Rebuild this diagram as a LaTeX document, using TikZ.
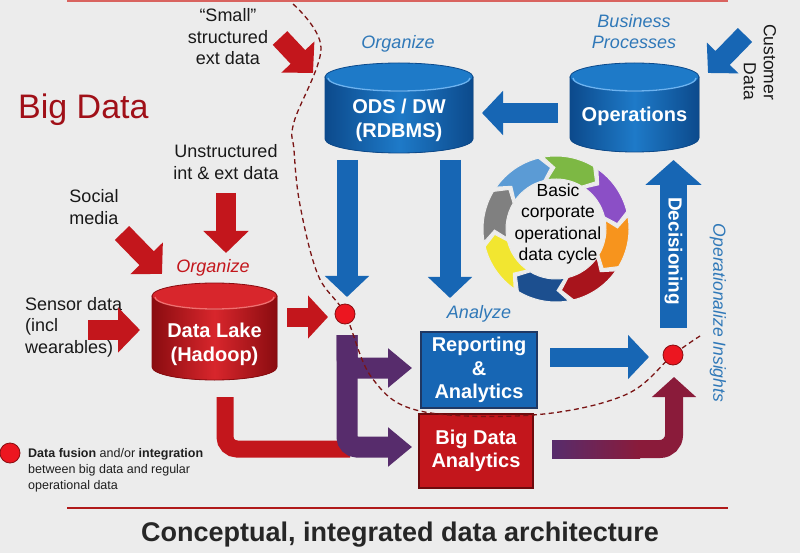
\documentclass[tikz,border=0pt]{standalone}
\usepackage{fontspec}
\setmainfont{Liberation Sans}
\usetikzlibrary{arrows.meta,calc}
\definecolor{bg}{HTML}{ECECEC}
\definecolor{rd}{HTML}{C3161C}
\definecolor{rdd}{HTML}{8A0C10}
\definecolor{rdm}{HTML}{D8262C}
\definecolor{rdl}{HTML}{F07070}
\definecolor{bl}{HTML}{1766B4}
\definecolor{bld}{HTML}{0C4A8C}
\definecolor{blm}{HTML}{1E7AC8}
\definecolor{bll}{HTML}{6DB3F0}
\definecolor{navy}{HTML}{1F3864}
\definecolor{lbl}{HTML}{2F78B8}
\definecolor{pu}{HTML}{572C6C}
\definecolor{pr}{HTML}{8A1B3A}
\definecolor{bigred}{HTML}{A01018}
\definecolor{dashc}{HTML}{7A1414}
\definecolor{ttl}{HTML}{262626}
\definecolor{dotr}{HTML}{EC1620}
\definecolor{topline}{HTML}{D9635F}
\definecolor{botline}{HTML}{B01A1A}
\definecolor{cgreen}{HTML}{7DB844}
\definecolor{cpurple}{HTML}{8B4FC6}
\definecolor{corange}{HTML}{F7941D}
\definecolor{cred}{HTML}{A8141C}
\definecolor{cdblue}{HTML}{1C4F8F}
\definecolor{cyellow}{HTML}{F2E630}
\definecolor{cgray}{HTML}{808080}
\definecolor{clblue}{HTML}{5B9BD5}
% cx, top-centre y, bottom-centre y, rx, ry, dark, mid, light
\newcommand{\mycyl}[8]{%
  \fill[left color=#6, right color=#6, middle color=#7, draw=#6, line width=0.8pt]
    (#1-#4,#2) -- (#1-#4,#3) arc[start angle=180,end angle=0,x radius=#4,y radius=#5] -- (#1+#4,#2) -- cycle;
  \fill[#7, draw=#6, line width=0.8pt] (#1,#2) ellipse[x radius=#4, y radius=#5];
  \draw[#8, line width=1.3pt] (#1-#4+3,#2+1) arc[start angle=180, end angle=0, x radius=#4-3, y radius=#5-1];
}
\begin{document}
\begin{tikzpicture}[x=1pt,y=-1pt,
  lab/.style={font=\fontsize{18}{21.5}\selectfont, align=center, inner sep=0pt, text=black!90},
  ital/.style={font=\fontsize{18}{21}\selectfont\itshape, align=center, inner sep=0pt, text=lbl},
  cyltext/.style={font=\fontsize{20}{24}\selectfont\bfseries, text=white, align=center, inner sep=0pt},
  boxnode/.style={minimum width=116pt, minimum height=76pt, inner sep=0pt, line width=1.6pt,
    font=\fontsize{20}{23.5}\selectfont\bfseries, text=white, align=center},
  fusedot/.style={circle, minimum size=20pt, inner sep=0pt, fill=dotr, draw=rdd, line width=0.8pt},
  redarrow/.style={draw=rd, line width=20pt, -{Triangle[length=22pt,width=44pt]}},
  bluearrow/.style={draw=bl, line width=20pt, -{Triangle[length=21pt,width=43pt]}},
  purplearrow/.style={draw=pu, line width=21pt, rounded corners=10pt, -{Triangle[length=24pt,width=38pt]}},
]
\useasboundingbox (0,0) rectangle (800,553);
\fill[bg] (0,0) rectangle (800,553);

% rules
\coordinate (tl1) at (67,1); \coordinate (tl2) at (728,1);
\draw[topline, line width=2pt] (tl1) -- (tl2);
\coordinate (bl1) at (67,508); \coordinate (bl2) at (728,508);
\draw[botline, line width=2.5pt] (bl1) -- (bl2);

% titles
\node[anchor=base west, inner sep=0pt, font=\fontsize{34}{40}\selectfont, text=bigred] (bigdata) at (18,119) {Big Data};
\node[inner sep=0pt, font=\fontsize{27}{32}\selectfont\bfseries, text=ttl] (title) at (400,535) {Conceptual, integrated data architecture};

% source labels
\node[lab] (small) at (228,37) {“Small”\\structured\\ext data};
\node[lab] (unstr) at (226,162) {Unstructured\\int \& ext data};
\node[lab] (social) at (94,207) {Social\\media};
\node[lab, align=left, anchor=west] (sensor) at (25,327) {Sensor data\\(incl\\wearables)};
\node[lab, rotate=-90, align=right, font=\fontsize{17.5}{20}\selectfont] (cust) at (760,62) {Customer\\Data};

% italic labels
\node[ital, text=rd] (orgR) at (213,268) {Organize};
\node[ital] (orgB) at (398,44) {Organize};
\node[ital] (bp) at (634,32) {Business\\Processes};
\node[ital] (anl) at (479,314) {Analyze};
\node[ital, rotate=-90, font=\fontsize{17.5}{20}\selectfont\itshape] (opins) at (718,313) {Operationalize Insights};

% cycle
\begin{scope}[shift={(556,229)}, yscale=-1]
  \foreach \s/\c in {100/cgreen, 55/cpurple, 10/corange, -35/cred, -80/cdblue, -125/cyellow, -170/cgray, -215/clblue} {
    \fill[\c, draw=white!85!gray, line width=1pt]
      (\s:73) arc[start angle=\s, end angle=\s-41, radius=73] -- (\s-50:61.5) -- (\s-41:50)
      arc[start angle=\s-41, end angle=\s, radius=50] -- (\s-9:61.5) -- cycle;
  }
\end{scope}
\node[inner sep=0pt, font=\fontsize{17.5}{21.5}\selectfont, align=center] (cycle) at (558,224) {Basic\\corporate\\operational\\data cycle};

% cylinders
\mycyl{399}{77}{139}{74}{14}{bld}{blm}{bll}
\mycyl{634.5}{77}{138}{64.5}{14}{bld}{blm}{bll}
\mycyl{214.5}{296}{367}{62.5}{13}{rdd}{rdm}{rdl}
\node[cyltext] (ods) at (399,120) {ODS / DW\\(RDBMS)};
\node[cyltext] (ops) at (634.5,116) {Operations};
\node[cyltext] (lake) at (214.5,344) {Data Lake\\(Hadoop)};

% boxes
\node[boxnode, fill=bl, draw=navy] (rep) at (479,370) {Reporting\\\&\\Analytics};
\node[boxnode, minimum width=114pt, minimum height=74pt, fill=rd, draw=rdd!80!black] (bda) at (476,451) {Big Data\\Analytics};

% fusion dots (positions)
\coordinate (d1) at (345,314);
\coordinate (d2) at (673,355);

% red input arrows
\coordinate (smA) at (280,38);  \coordinate (smB) at (313,73);
\coordinate (unA) at (226,193); \coordinate (unB) at (226,253);
\coordinate (soA) at (122,233); \coordinate (soB) at (162,274);
\coordinate (seA) at (88,330);  \coordinate (seB) at (140,330);
\coordinate (lkA) at (287,317); \coordinate (lkB) at (328,317);
\draw[redarrow] (smA) -- (smB);
\draw[redarrow] (unA) -- (unB);
\draw[redarrow] (soA) -- (soB);
\draw[redarrow] (seA) -- (seB);
\draw[redarrow, line width=19pt, -{Triangle[length=20pt,width=42pt]}] (lkA) -- (lkB);

% blue arrows
\coordinate (opA) at (558,113); \coordinate (opB) at (482,113);
\coordinate (cuA) at (745,35);  \coordinate (cuB) at (708,73);
\coordinate (o1A) at (347,160); \coordinate (o1B) at (347,297);
\coordinate (o2A) at (450,160); \coordinate (o2B) at (450,298);
\coordinate (rpA) at (550,357); \coordinate (rpB) at (649,357);
\coordinate (dcA) at (673.5,328); \coordinate (dcB) at (673.5,160);
\draw[bluearrow] (opA) -- (opB);
\draw[bluearrow] (cuA) -- (cuB);
\draw[bluearrow, line width=21pt] (o1A) -- (o1B);
\draw[bluearrow, line width=21pt] (o2A) -- (o2B);
\draw[bluearrow, line width=19pt] (rpA) -- (rpB);
\draw[draw=bl, line width=27pt, -{Triangle[length=25pt,width=55pt]}] (dcA) -- (dcB);
\node[rotate=-90, inner sep=0pt, font=\fontsize{19}{22}\selectfont\bfseries, text=white] (dec) at (673.5,251) {Decisioning};

% red pipe from data lake
\coordinate (pA) at (225,397); \coordinate (pB) at (350,449);
\draw[rd, line width=17pt, rounded corners=12pt] (pA) |- (pB);

% purple T arrows
\coordinate (tA) at (347,335);
\coordinate (tB) at (412,368);
\coordinate (tC) at (412,447);
\draw[purplearrow] (tA) |- (tB);
\draw[purplearrow] (tA) |- (tC);

% big data analytics -> insight dot
\coordinate (bA) at (552,449); \coordinate (bB) at (674,377);
\draw[pr, line width=18pt, rounded corners=14pt, -{Triangle[length=20pt,width=43pt]}] (bA) -| (bB);
\fill[left color=pu, right color=pr] (552,440) rectangle (640,458);

% dashed boundary
\draw[dashc, line width=1.3pt, dash pattern=on 5pt off 3.5pt]
  plot[smooth, tension=0.6] coordinates {(293,4) (321,48) (294,122) (294,150) (300,205) (318,275) (d1)
  (372,378) (420,411) (533,415) (625,395) (d2) (700,336)};

% dots
\node[fusedot] (dot1) at (d1) {};
\node[fusedot] (dot2) at (d2) {};
\node[fusedot] (ldot) at (10,453) {};

% legend
\node[anchor=north west, inner sep=0pt, align=left, font=\fontsize{12.5}{16}\selectfont, text=black!88] (legend) at (28,448)
  {\textbf{Data fusion} and/or \textbf{integration}\\between big data and regular\\operational data};
\end{tikzpicture}
\end{document}
